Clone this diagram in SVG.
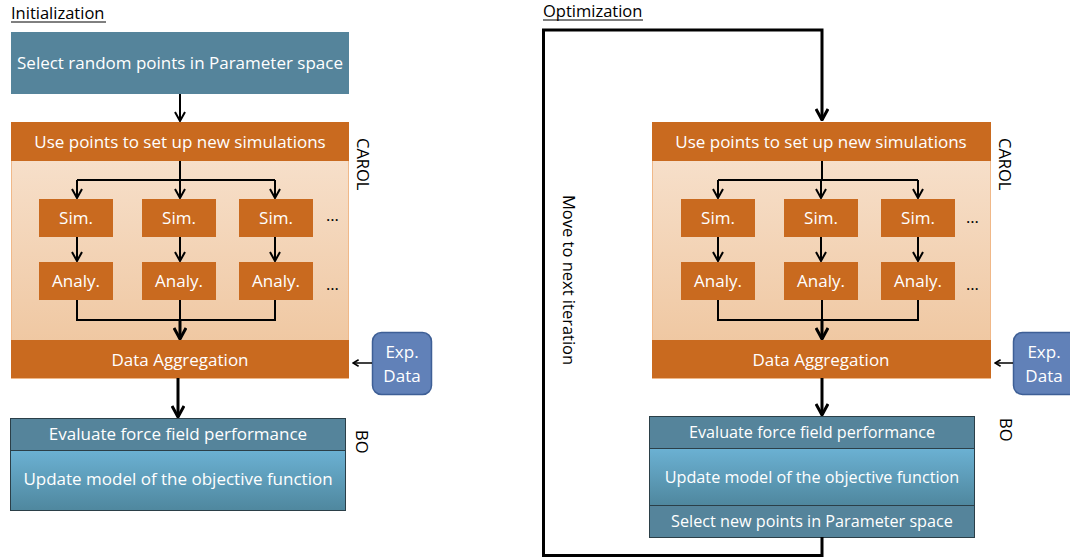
<svg xmlns="http://www.w3.org/2000/svg" width="1070" height="558" viewBox="0 0 1070 558">
<style>
text{font-family:"Open Sans","Noto Sans",sans-serif}
.w{fill:#fff;font-size:17px;text-anchor:middle}
.ws{fill:#fff;font-size:16.2px;text-anchor:middle}
.k{fill:#000;font-size:16.5px}
.orange{fill:#c96a1f}
.ln{fill:none;stroke:#000;stroke-width:2}
.lnb{fill:none;stroke:#000;stroke-width:3}
.ln1{fill:none;stroke:#000;stroke-width:1.5}
</style>
<defs>
<marker id="a" viewBox="0 0 12 12" refX="11" refY="6" markerWidth="12" markerHeight="12" orient="auto" markerUnits="userSpaceOnUse">
<path d="M2,1 L11,6 L2,11" fill="none" stroke="#000" stroke-width="2"/>
</marker>
<marker id="ab" viewBox="0 0 14 14" refX="13" refY="7" markerWidth="14" markerHeight="14" orient="auto" markerUnits="userSpaceOnUse">
<path d="M2,1 L13,7 L2,13" fill="none" stroke="#000" stroke-width="3"/>
</marker>
<marker id="as" viewBox="0 0 10 10" refX="9" refY="5" markerWidth="8" markerHeight="8" orient="auto" markerUnits="userSpaceOnUse">
<path d="M2,1 L9,5 L2,9" fill="none" stroke="#000" stroke-width="2"/>
</marker>
<linearGradient id="peach" x1="0" y1="0" x2="0" y2="1">
<stop offset="0" stop-color="#f8e4d2"/>
<stop offset="1" stop-color="#eec39a"/>
</linearGradient>
<linearGradient id="blue" x1="0" y1="0" x2="0" y2="1">
<stop offset="0" stop-color="#6bb1d3"/>
<stop offset="1" stop-color="#4f879e"/>
</linearGradient>
</defs>

<g id="titles">
<text class="k" x="11" y="19">Initialization</text>
<line x1="11" y1="22" x2="106" y2="22" stroke="#000" stroke-width="1"/>
<text class="k" x="543" y="17">Optimization</text>
<line x1="543" y1="20" x2="643" y2="20" stroke="#000" stroke-width="1"/>
</g>

<g id="select-random">
<rect x="11" y="32" width="338" height="62" fill="#55849b"/>
<text class="w" x="180" y="69">Select random points in Parameter space</text>
</g>

<g id="carol-left">
<rect x="11.5" y="122.5" width="337" height="256" fill="url(#peach)" stroke="#f0b888" stroke-width="1"/>
<rect x="11" y="122" width="338" height="39" class="orange"/>
<text class="w" x="180" y="148">Use points to set up new simulations</text>
<text class="k" transform="translate(357,138) rotate(90)" font-size="15">CAROL</text>
</g>
<g id="sim-l1"><rect x="39" y="199" width="74" height="38" class="orange"/><text class="w" x="76" y="224">Sim.</text></g>
<g id="sim-l2"><rect x="142" y="199" width="74" height="38" class="orange"/><text class="w" x="179" y="224">Sim.</text></g>
<g id="sim-l3"><rect x="239" y="199" width="74" height="38" class="orange"/><text class="w" x="276" y="224">Sim.</text></g>
<g id="analy-l1"><rect x="39" y="262" width="74" height="38" class="orange"/><text class="w" x="76" y="287">Analy.</text></g>
<g id="analy-l2"><rect x="142" y="262" width="74" height="38" class="orange"/><text class="w" x="179" y="287">Analy.</text></g>
<g id="analy-l3"><rect x="239" y="262" width="74" height="38" class="orange"/><text class="w" x="276" y="287">Analy.</text></g>
<g id="dots-l"><text class="k" x="326" y="221" font-size="15">…</text><text class="k" x="326" y="290" font-size="15">…</text></g>
<g id="aggr-left">
<rect x="11" y="340" width="338" height="38" class="orange"/>
<text class="w" x="180" y="366">Data Aggregation</text>
</g>
<g id="exp-left">
<rect x="372.5" y="332.5" width="59" height="62" rx="9" fill="#6181b8" stroke="#3e5f96" stroke-width="1.5"/>
<text class="w" x="402" y="358">Exp.</text>
<text class="w" x="402" y="382">Data</text>
</g>
<g id="bo-left">
<rect x="10.5" y="450.5" width="335" height="60" fill="url(#blue)" stroke="#2b3f48" stroke-width="1"/>
<rect x="10.5" y="418.5" width="335" height="32" fill="#55849b" stroke="#2b3f48" stroke-width="1"/>
<text class="w" x="178" y="440">Evaluate force field performance</text>
<text class="w" x="178" y="485">Update model of the objective function</text>
<text class="k" transform="translate(356,430) rotate(90)" font-size="15">BO</text>
</g>

<g id="carol-right">
<rect x="652.5" y="122.5" width="338" height="256" fill="url(#peach)" stroke="#f0b888" stroke-width="1"/>
<rect x="652" y="122" width="339" height="39" class="orange"/>
<text class="w" x="821" y="148">Use points to set up new simulations</text>
<text class="k" transform="translate(999,138) rotate(90)" font-size="15">CAROL</text>
</g>
<g id="sim-r1"><rect x="681" y="199" width="74" height="38" class="orange"/><text class="w" x="718" y="224">Sim.</text></g>
<g id="sim-r2"><rect x="784" y="199" width="74" height="38" class="orange"/><text class="w" x="821" y="224">Sim.</text></g>
<g id="sim-r3"><rect x="881" y="199" width="74" height="38" class="orange"/><text class="w" x="918" y="224">Sim.</text></g>
<g id="analy-r1"><rect x="681" y="262" width="74" height="38" class="orange"/><text class="w" x="718" y="287">Analy.</text></g>
<g id="analy-r2"><rect x="784" y="262" width="74" height="38" class="orange"/><text class="w" x="821" y="287">Analy.</text></g>
<g id="analy-r3"><rect x="881" y="262" width="74" height="38" class="orange"/><text class="w" x="918" y="287">Analy.</text></g>
<g id="dots-r"><text class="k" x="966" y="223" font-size="15">…</text><text class="k" x="966" y="290" font-size="15">…</text></g>
<g id="aggr-right">
<rect x="652" y="340" width="339" height="38" class="orange"/>
<text class="w" x="821" y="366">Data Aggregation</text>
</g>
<g id="exp-right">
<rect x="1013.5" y="332.5" width="64" height="62" rx="9" fill="#6181b8" stroke="#3e5f96" stroke-width="1.5"/>
<text class="w" x="1044" y="358">Exp.</text>
<text class="w" x="1044" y="382">Data</text>
</g>
<g id="bo-right">
<rect x="649.5" y="448.5" width="325" height="57" fill="url(#blue)" stroke="#2b3f48" stroke-width="1"/>
<rect x="649.5" y="416.5" width="325" height="32" fill="#55849b" stroke="#2b3f48" stroke-width="1"/>
<rect x="649.5" y="505.5" width="325" height="32" fill="#55849b" stroke="#2b3f48" stroke-width="1"/>
<text class="ws" x="812" y="438">Evaluate force field performance</text>
<text class="ws" x="812" y="483">Update model of the objective function</text>
<text class="ws" x="812" y="527">Select new points in Parameter space</text>
<text class="k" transform="translate(1000,418) rotate(90)" font-size="15">BO</text>
</g>
<g id="loop-label">
<text class="k" transform="translate(563,195) rotate(90)" font-size="18">Move to next iteration</text>
</g>

<g id="connectors">
<line class="ln" x1="180" y1="94" x2="180" y2="121" marker-end="url(#a)"/>
<path class="ln" d="M180,161 V180"/>
<path class="ln" d="M77,180 H275"/>
<line class="ln" x1="77" y1="180" x2="77" y2="198" marker-end="url(#a)"/>
<line class="ln" x1="180" y1="180" x2="180" y2="198" marker-end="url(#a)"/>
<line class="ln" x1="275" y1="180" x2="275" y2="198" marker-end="url(#a)"/>
<line class="ln" x1="77" y1="237" x2="77" y2="261" marker-end="url(#a)"/>
<line class="ln" x1="180" y1="237" x2="180" y2="261" marker-end="url(#a)"/>
<line class="ln" x1="275" y1="237" x2="275" y2="261" marker-end="url(#a)"/>
<path class="ln" d="M77,300 V320 H275 V300"/>
<line class="ln" x1="180" y1="300" x2="180" y2="320"/>
<line class="lnb" x1="180" y1="320" x2="180" y2="339" marker-end="url(#ab)"/>
<line class="ln1" x1="372" y1="363" x2="353" y2="363" marker-end="url(#as)"/>
<line class="lnb" x1="178" y1="378" x2="178" y2="417" marker-end="url(#ab)"/>
<path class="lnb" d="M822,537 V555.5 H543.5 V30 H822 V120" marker-end="url(#ab)"/>
<path class="ln" d="M822,161 V180"/>
<path class="ln" d="M718,180 H918"/>
<line class="ln" x1="718" y1="180" x2="718" y2="198" marker-end="url(#a)"/>
<line class="ln" x1="821" y1="180" x2="821" y2="198" marker-end="url(#a)"/>
<line class="ln" x1="918" y1="180" x2="918" y2="198" marker-end="url(#a)"/>
<line class="ln" x1="718" y1="237" x2="718" y2="261" marker-end="url(#a)"/>
<line class="ln" x1="821" y1="237" x2="821" y2="261" marker-end="url(#a)"/>
<line class="ln" x1="918" y1="237" x2="918" y2="261" marker-end="url(#a)"/>
<path class="ln" d="M718,300 V320 H918 V300"/>
<line class="ln" x1="822" y1="300" x2="822" y2="320"/>
<line class="lnb" x1="822" y1="320" x2="822" y2="339" marker-end="url(#ab)"/>
<line class="ln1" x1="1013" y1="363" x2="995" y2="363" marker-end="url(#as)"/>
<line class="lnb" x1="822" y1="378" x2="822" y2="415" marker-end="url(#ab)"/>
</g>
</svg>
